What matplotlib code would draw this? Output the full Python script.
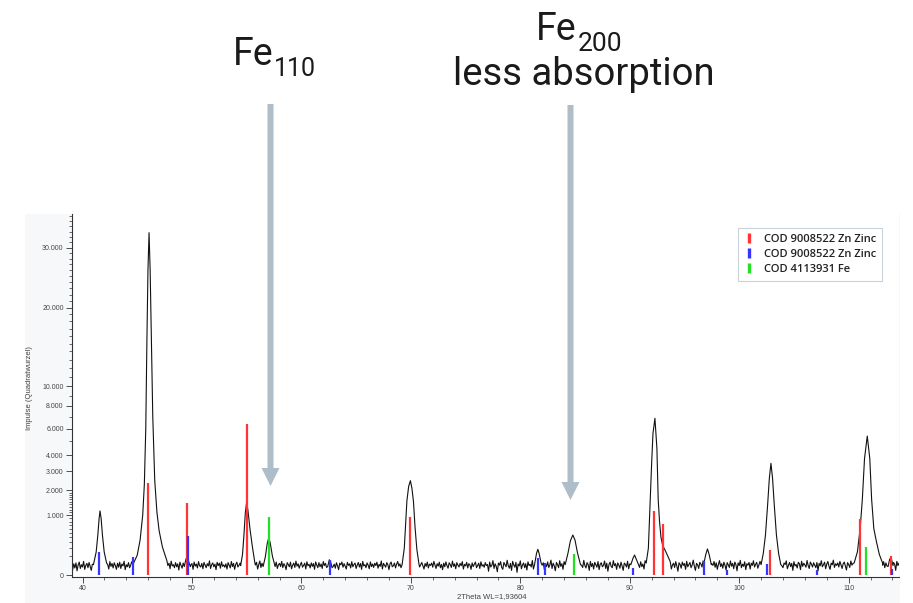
import numpy as np
import matplotlib
matplotlib.use("Agg")
import matplotlib.pyplot as plt
from matplotlib.lines import Line2D
from matplotlib.patches import FancyArrow, Rectangle
from matplotlib.ticker import FixedLocator, FixedFormatter

plt.rcParams['font.family'] = ['Liberation Sans', 'DejaVu Sans']

# ---------------- data ----------------
bg_start = 39.0
bg_step = 0.1
background = [
    22, 8, 35, 14, 41, 5, 28, 47, 12, 30, 18, 52, 9, 26, 38, 15, 44, 20, 6, 33,
    27, 48, 11, 36, 19, 55, 13, 29, 40, 7, 24, 45, 16, 31, 10, 50, 21, 37, 14, 42,
    25, 9, 39, 17, 46, 12, 34, 23, 53, 8, 30, 19, 43, 15, 27, 49, 11, 35, 22, 40,
    6, 32, 18, 47, 13, 38, 26, 10, 44, 20, 57, 14, 29, 36, 9, 41, 24, 16, 51, 28,
    12, 37, 21, 45, 8, 33, 48, 17, 25, 39, 11, 54, 23, 30, 15, 43, 19, 35, 7, 46,
    26, 13, 40, 20, 52, 10, 31, 42, 16, 28, 37, 9, 47, 22, 34, 14, 50, 24, 18, 38,
    11, 44, 27, 15, 36, 23, 56, 12, 30, 41, 19, 33, 8, 45, 25, 39, 13, 49, 21, 29,
    17, 35, 10, 43, 26, 14, 51, 20, 38, 9, 32, 46, 18, 27, 40, 12, 53, 22, 31, 15,
    42, 24, 7, 37, 19, 48, 13, 34, 28, 45, 10, 30, 55, 16, 39, 21, 11, 44, 26, 35,
    14, 50, 23, 9, 41, 18, 33, 47, 12, 29, 38, 20, 52, 15, 36, 25, 8, 43, 31, 19,
    46, 11, 27, 40, 16, 54, 22, 35, 13, 30, 45, 17, 26, 39, 10, 49, 24, 32, 14, 41,
    21, 37, 9, 48, 28, 15, 43, 19, 34, 12, 51, 25, 38, 16, 30, 44, 11, 27, 53, 20,
    33, 13, 42, 24, 8, 39, 29, 47, 17, 36, 22, 10, 45, 26, 35, 14, 50, 19, 31, 40,
    12, 28, 44, 18, 37, 9, 52, 23, 30, 15, 41, 27, 11, 48, 20, 34, 16, 39, 25, 46,
    13, 32, 21, 55, 10, 38, 26, 17, 43, 29, 8, 36, 47, 19, 24, 40, 14, 33, 51, 22,
    35, 15, 42, 27, 11, 49, 20, 31, 39, 12, 45, 23, 34, 9, 41, 28, 16, 53, 18, 30,
    44, 24, 10, 37, 21, 47, 14, 33, 26, 40, 17, 52, 29, 12, 36, 22, 46, 15, 31, 8,
    39, 19, 48, 25, 13, 42, 30, 16, 54, 21, 35, 11, 43, 27, 18, 38, 24, 50, 10, 32,
    23, 45, 14, 36, 28, 9, 41, 20, 33, 47, 15, 26, 39, 12, 49, 22, 30, 17, 43, 25,
    31, 4, 47, 18, 26, 58, 12, 35, 21, 3, 40, 27, 50, 16, 9, 44, 30, 19, 61, 24,
    13, 38, 6, 52, 29, 17, 45, 2, 34, 23, 56, 11, 28, 41, 15, 36, 7, 49, 25, 32,
    18, 59, 10, 37, 22, 46, 4, 31, 53, 14, 27, 42, 8, 35, 20, 48, 16, 29, 62, 12,
    39, 24, 5, 44, 30, 15, 57, 21, 36, 9, 50, 26, 13, 41, 33, 3, 47, 19, 28, 54,
    11, 35, 22, 49, 7, 38, 27, 16, 60, 25, 14, 43, 31, 6, 52, 20, 37, 10, 45, 29,
    17, 51, 8, 33, 42, 19, 26, 55, 12, 39, 4, 30, 47, 21, 15, 58, 24, 36, 9, 41,
    28, 13, 46, 23, 6, 40, 32, 18, 53, 11, 35, 27, 61, 14, 22, 44, 5, 38, 30, 16,
    49, 20, 34, 10, 57, 26, 3, 43, 17, 31, 48, 12, 37, 24, 52, 8, 29, 40, 19, 55,
    14, 36, 25, 7, 46, 33, 21, 59, 10, 28, 39, 16, 50, 23, 4, 42, 31, 13, 47, 26,
    37, 9, 53, 19, 30, 44, 15, 27, 62, 22, 6, 38, 29, 12, 45, 34, 18, 56, 11, 32,
    24, 48, 14, 40, 3, 35, 26, 51, 17, 42, 9, 31, 58, 20, 36, 13, 46, 27, 7, 43,
    29, 16, 55, 22, 38, 11, 47, 30, 5, 41, 25, 60, 15, 33, 21, 49, 8, 36, 27, 44,
    10, 39, 26, 57, 18, 32, 45, 13, 28, 52, 7, 37, 23, 41, 16, 54, 30, 4, 46, 21,
    35, 12, 43, 27, 61, 19, 34, 9, 48, 24, 15, 40, 31, 56, 11, 26, 44, 20, 38, 6,
    50, 23, 31, 14, 45, 36, 8, 53, 21, 39, 28, 17, 59, 25, 12, 47, 33, 18, 42, 27,
    15, 44, 5, 38, 24, 57, 19, 30, 46, 11, 34, 51, 22, 9, 40, 29, 62, 16, 35, 26,
    41, 18, 52, 28, 12, 36, 47, 23, 7, 43, 31, 16, 55, 27, 38, 14, 49, 21, 33, 58,
    20, 37, 11, 46, 30, 4, 42, 26, 54, 17, 35, 22, 48, 13, 29, 60, 24, 39, 8, 45,
    32, 27, 50, 15, 41, 23, 56, 10, 36, 28, 19, 44, 33, 6, 52, 25, 40, 17, 47, 30,
]

# observed peak profiles (2theta, counts)
pk_41_x = [41.0, 41.25, 41.4, 41.52, 41.6, 41.7, 41.82, 41.98, 42.2]
pk_41_y = [30, 150, 450, 900, 1150, 900, 450, 150, 40]
pk_46_x = [44.6, 45.0, 45.26, 45.5, 45.65, 45.78, 45.88, 45.98, 46.08, 46.18,
           46.3, 46.42, 46.6, 46.8, 47.0, 47.3, 47.7]
pk_46_y = [30, 110, 340, 1000, 2300, 6000, 15000, 26000, 32800, 26000,
           15000, 7000, 2500, 1100, 550, 220, 60]
pk_49_x = [49.3, 49.45, 49.55, 49.68, 49.85]
pk_49_y = [20, 70, 90, 55, 20]
pk_55_x = [54.45, 54.62, 54.75, 54.88, 55.0, 55.12, 55.3, 55.5, 55.75]
pk_55_y = [25, 120, 450, 1100, 1500, 1150, 600, 250, 40]
pk_57_x = [56.5, 56.7, 56.88, 57.02, 57.15, 57.35, 57.6]
pk_57_y = [20, 90, 280, 390, 290, 100, 20]
pk_62_x = [62.4, 62.55, 62.65, 62.8]
pk_62_y = [20, 65, 55, 15]
pk_70_x = [69.2, 69.4, 69.52, 69.64, 69.8, 69.96, 70.1, 70.24, 70.38, 70.55, 70.75]
pk_70_y = [30, 200, 700, 1550, 2200, 2490, 2100, 1500, 650, 180, 30]
pk_81_x = [81.3, 81.48, 81.6, 81.72, 81.9]
pk_81_y = [30, 130, 185, 130, 40]
pk_85_x = [84.1, 84.35, 84.58, 84.8, 85.0, 85.22, 85.5]
pk_85_y = [30, 130, 330, 448, 340, 140, 30]
pk_90_x = [90.1, 90.3, 90.44, 90.6, 90.8]
pk_90_y = [30, 80, 112, 70, 30]
pk_92_x = [91.5, 91.7, 91.87, 92.0, 92.12, 92.3, 92.48, 92.6, 92.72, 92.85,
           93.0, 93.3, 93.7]
pk_92_y = [40, 200, 1575, 3500, 5600, 6875, 4500, 1575, 800, 400,
           250, 150, 50]
pk_97_x = [96.75, 96.95, 97.1, 97.25, 97.45]
pk_97_y = [30, 120, 190, 120, 30]
pk_103_x = [102.0, 102.2, 102.4, 102.6, 102.75, 102.9, 103.05, 103.2, 103.4, 103.6, 103.8]
pk_103_y = [30, 130, 450, 1400, 2600, 3490, 2600, 1400, 450, 130, 30]
pk_112_x = [110.5, 110.8, 111.05, 111.25, 111.45, 111.7, 111.93, 112.1, 112.3,
            112.55, 112.8, 113.1]
pk_112_y = [40, 150, 600, 1600, 3800, 5405, 3800, 1600, 600, 300, 120, 40]
pk_114_x = [113.6, 113.75, 113.88, 114.05]
pk_114_y = [20, 70, 85, 25]

# reference stick patterns
zn1_pos = [46.0, 49.52, 55.06, 69.96, 92.2, 93.06, 102.84, 111.0, 113.85]
zn1_int = [2370, 1450, 6380, 950, 1147, 728, 175, 878, 100]
zn2_pos = [41.5, 44.64, 49.6, 62.6, 81.6, 82.3, 90.3, 96.8, 98.9, 102.54, 107.1, 114.0]
zn2_int = [152, 90, 432, 63, 81, 42, 12, 55, 8, 34, 8, 10]
fe_pos = [57.05, 84.93, 111.62]
fe_int = [940, 120, 224]

legend_labels = ['COD 9008522 Zn Zinc', 'COD 9008522 Zn Zinc', 'COD 4113931 Fe']
y_ticks = [0, 1000, 2000, 3000, 4000, 6000, 8000, 10000, 20000, 30000]
y_tick_labels = ['0', '1.000', '2.000', '3.000', '4.000', '6.000', '8.000',
                 '10.000', '20.000', '30.000']
x_ticks = [40, 50, 60, 70, 80, 90, 100, 110]
x_tick_labels = ['40', '50', '60', '70', '80', '90', '100', '110']

# ---------------- build curve ----------------
bg_x = bg_start + bg_step * np.arange(len(background))
bg_y = np.array(background, dtype=float)
segments = [(pk_41_x, pk_41_y), (pk_46_x, pk_46_y), (pk_49_x, pk_49_y),
            (pk_55_x, pk_55_y), (pk_57_x, pk_57_y), (pk_62_x, pk_62_y),
            (pk_70_x, pk_70_y), (pk_81_x, pk_81_y), (pk_85_x, pk_85_y),
            (pk_90_x, pk_90_y), (pk_92_x, pk_92_y), (pk_97_x, pk_97_y),
            (pk_103_x, pk_103_y), (pk_112_x, pk_112_y), (pk_114_x, pk_114_y)]
keep = np.ones(len(bg_x), dtype=bool)
for sx, sy in segments:
    keep &= ~((bg_x >= sx[0]) & (bg_x <= sx[-1]))
cx = np.concatenate([bg_x[keep]] + [np.array(s[0]) for s in segments])
cy = np.concatenate([bg_y[keep]] + [np.array(s[1], dtype=float) for s in segments])
order = np.argsort(cx)
cx, cy = cx[order], cy[order]

# ---------------- figure ----------------
W, H = 913, 603
fig = plt.figure(figsize=(W / 100, H / 100), dpi=100)
fig.patch.set_facecolor('white')

panel = Rectangle((25 / W, 0), (900 - 25) / W, (H - 214) / H, transform=fig.transFigure,
                  facecolor='#f6f8fa', edgecolor='none', zorder=-5)
fig.add_artist(panel)

ax = fig.add_axes([72 / W, 26 / H, 827 / W, 363 / H])
ax.set_facecolor('white')


def fwd(v):
    v = np.asarray(v, dtype=float)
    return np.sign(v) * np.sqrt(np.abs(v))


def inv(s):
    s = np.asarray(s, dtype=float)
    return np.sign(s) * s ** 2


ax.set_yscale('function', functions=(fwd, inv))
ax.set_xlim(39.04, 114.6)
ax.set_ylim(-1.1, 36480)

ax.plot(cx, cy, color='#111111', lw=0.8, zorder=2)
ax.vlines(zn1_pos, 0, zn1_int, colors='#ff3535', lw=1.6, zorder=3)
ax.vlines(zn2_pos, 0, zn2_int, colors='#3535ff', lw=1.6, zorder=3)
ax.vlines(fe_pos, 0, fe_int, colors='#22e022', lw=1.6, zorder=3)

for s in ['top', 'right']:
    ax.spines[s].set_visible(False)
for s in ['left', 'bottom']:
    ax.spines[s].set_color('#333333')
    ax.spines[s].set_linewidth(0.8)

ax.yaxis.set_major_locator(FixedLocator(y_ticks))
ax.yaxis.set_major_formatter(FixedFormatter(y_tick_labels))
minor_y = [v for v in list(range(100, 2000, 100)) + list(range(3000, 36001, 1000))
           if v not in y_ticks]
ax.yaxis.set_minor_locator(FixedLocator(minor_y))
ax.xaxis.set_major_locator(FixedLocator(x_ticks))
ax.xaxis.set_major_formatter(FixedFormatter(x_tick_labels))
ax.xaxis.set_minor_locator(FixedLocator([v for v in np.arange(40, 115, 2) if v % 10 != 0]))

ax.tick_params(which='major', length=4, width=0.6, color='#333333',
               labelsize=5, labelcolor='#444444', pad=2)
ax.tick_params(which='minor', length=2, width=0.5, color='#333333')

ax.set_ylabel('Impulse (Quadratwurzel)', fontsize=5.5, color='#444444')
ax.yaxis.set_label_coords(-0.047, 0.52)
ax.set_xlabel('2Theta WL=1,93604', fontsize=5.5, color='#444444')
ax.xaxis.set_label_coords(0.507, -0.045)

handles = [Line2D([], [], color=c, marker='|', linestyle='None', markersize=6.5,
                  markeredgewidth=2.4) for c in ['#ff3535', '#3535ff', '#22e022']]
leg = ax.legend(handles, legend_labels, loc='upper right',
                bbox_to_anchor=(882 / W, 1 - 228 / H), bbox_transform=fig.transFigure,
                borderaxespad=0, frameon=True, fancybox=False, edgecolor='#c9d1d9',
                framealpha=1, prop={'family': 'Open Sans', 'weight': 'semibold', 'size': 8},
                handlelength=1.0, handletextpad=0.9, labelspacing=0.38, borderpad=0.5)
leg.get_frame().set_linewidth(0.8)
for t in leg.get_texts():
    t.set_color('#222222')

# ---------------- annotations ----------------
tc = '#1a1a1a'
fig.text(233 / W, 1 - 65 / H, 'Fe', fontsize=27, family='Roboto', color=tc,
         ha='left', va='baseline')
fig.text(274 / W, 1 - 76 / H, '110', fontsize=18, family='Roboto', color=tc,
         ha='left', va='baseline')
fig.text(536 / W, 1 - 40 / H, 'Fe', fontsize=27, family='Roboto', color=tc,
         ha='left', va='baseline')
fig.text(578 / W, 1 - 51 / H, '200', fontsize=19, family='Roboto', color=tc,
         ha='left', va='baseline')
fig.text(583.5 / W, 1 - 85 / H, 'less absorption', fontsize=27.5, family='Roboto',
         color=tc, ha='center', va='baseline')

for ax_x, y0, y1 in [(270.5, 104, 486), (570.5, 105, 500)]:
    arr = FancyArrow(ax_x / W, 1 - y0 / H, 0, -(y1 - y0) / H, width=6 / W,
                     head_width=18 / W, head_length=18 / H, length_includes_head=True,
                     transform=fig.transFigure, facecolor='#afbdc9', edgecolor='none',
                     zorder=10)
    fig.add_artist(arr)

fig.savefig('out.png', dpi=100, facecolor='white')
